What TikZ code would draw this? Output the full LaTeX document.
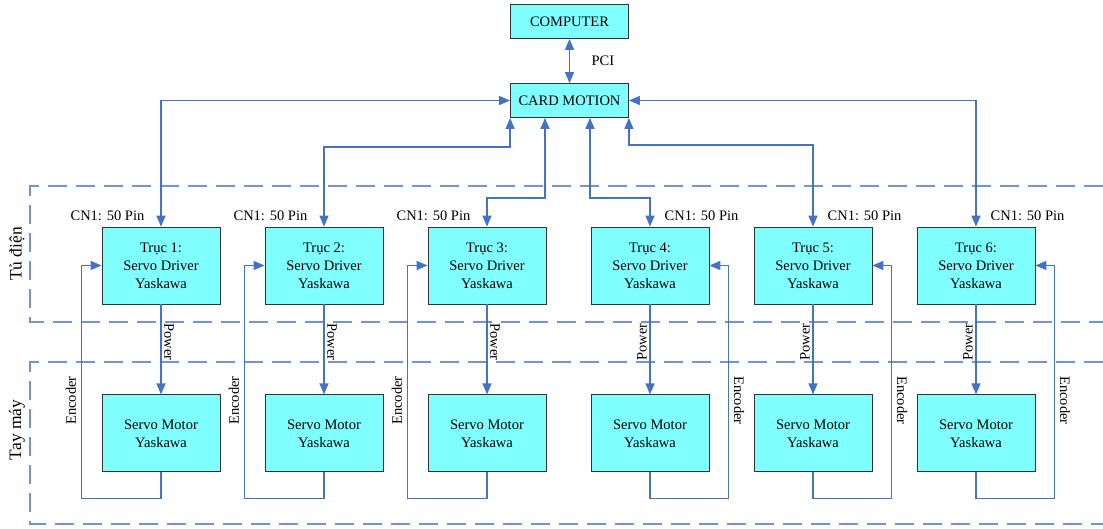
\documentclass[tikz,border=0pt]{standalone}
\usepackage{fontspec}
\setmainfont{Liberation Serif}
\usetikzlibrary{arrows.meta,positioning}
\definecolor{linkblue}{HTML}{4472C4}
\definecolor{zoneblue}{HTML}{7393D0}
\definecolor{boxcyan}{HTML}{80FFFF}
\tikzset{>={Triangle[length=11pt,width=9pt]},
	box/.style={draw=black!80, fill=boxcyan, line width=0.8pt,
		align=center, minimum width=118pt, inner sep=0pt},
	unitbox/.style={box, minimum height=77pt},
	topbox/.style={box, minimum height=34pt},
	link/.style={draw=linkblue, line width=1.3pt},
	zone/.style={draw=zoneblue, line width=1.3pt, dash pattern=on 19pt off 9pt},
	zonetag/.style={rotate=90, font=\fontsize{17.5}{21}\selectfont},
	tag/.style={inner sep=2.5pt},
	enctag/.style={tag, outer sep=3pt}}

\begin{document}
\begin{tikzpicture}[x=1pt, y=1pt, font=\fontsize{14.5}{18}\selectfont]
	\useasboundingbox (0,0) rectangle (1103,-528);
	% zones
	\draw[zone] (1103,-186) -- (30,-186) -- (30,-322) -- (1103,-322);
	\draw[zone] (1103,-362) -- (30,-362) -- (30,-524) -- (1103,-524);
	\node[zonetag] (tudien) at (17,-254) {Tủ điện};
	\node[zonetag] (taymay) at (17,-430) {Tay máy};
	
	\node[topbox] (comp) at (569.5,-21.5) {COMPUTER};
	\node[topbox] (card) at (569.5,-100.5) {CARD MOTION};
	\draw[link,<->] (comp) -- node[tag, right=19pt] {PCI} (card);
	
	\foreach \i in {1,...,6}{
		\node[unitbox] (d\i) at ({161+163*(\i-1)},-265.5) {Trục \i:\\Servo Driver\\Yaskawa};
		\node[unitbox, below=90pt of d\i] (m\i) {Servo Motor\\Yaskawa};
	}
	\foreach \i in {1,2,3}{
		\node[tag, anchor=base east] (cn\i) at ([xshift=-14pt,yshift=6pt]d\i.north) {CN1: 50 Pin};
		\draw[link,->] (d\i) -- node[tag, pos=0.42, rotate=-90, anchor=south] {Power} (m\i);
		\draw[link,->] (m\i.south) -- ++(0,-26) -| node[enctag, pos=0.71, rotate=90, anchor=south] {Encoder}
			([xshift=-20pt]d\i.west) -- (d\i.west);
	}
	\foreach \i in {4,5,6}{
		\node[tag, anchor=base west] (cn\i) at ([xshift=12pt,yshift=6pt]d\i.north) {CN1: 50 Pin};
		\draw[link,->] (d\i) -- node[tag, pos=0.42, rotate=90, anchor=south] {Power} (m\i);
		\draw[link,->] (m\i.south) -- ++(0,-26) -| node[enctag, pos=0.71, rotate=-90, anchor=south] {Encoder}
			([xshift=19pt]d\i.east) -- (d\i.east);
	}
	
	% card motion to drivers
	\draw[link,<->] (card.west) -| (d1.north);
	\draw[link,<->] (card.south west) -- ++(0,-29) -| (d2.north);
	\draw[link,<->] ([xshift=-24.5pt]card.south) -- ++(0,-80) -| (d3.north);
	\draw[link,<->] ([xshift=20.5pt]card.south) -- ++(0,-80) -| (d4.north);
	\draw[link,<->] (card.south east) -- ++(0,-27) -| (d5.north);
	\draw[link,<->] (card.east) -| (d6.north);
\end{tikzpicture}
\end{document}
